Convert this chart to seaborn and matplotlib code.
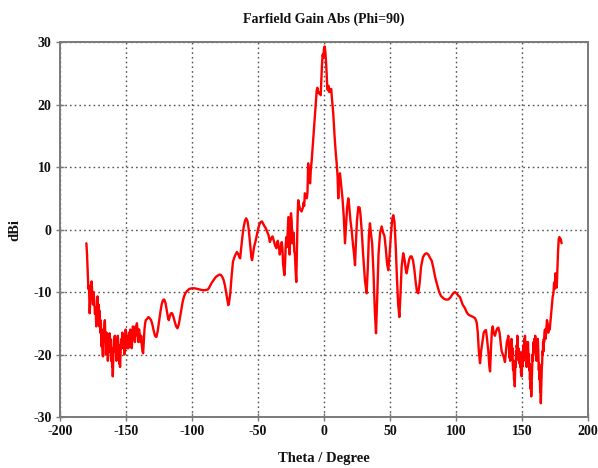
import matplotlib
matplotlib.use("Agg")
import matplotlib.pyplot as plt
import seaborn as sns
import pandas as pd

# Far-field gain cut at Phi = 90 deg, sampled in theta (degrees) -> gain (dBi)

# back-lobe edge, theta -180 .. -172.5
theta_left_tail = [-180, -179.5, -179, -178.5, -178, -177.5, -177, -176.5,
                   -176, -175.5, -175, -174.5, -174, -173.5, -173, -172.5]
gain_left_tail = [-2.2, -4.0, -7.0, -9.5, -9.0, -13.4, -11.0, -9.5,
                  -8.3, -10.5, -12.0, -10.0, -11.5, -13.5, -12.5, -15.5]

# finely sampled ripple, theta -172 .. -140 in 0.25 deg steps
left_ripple_start = -172.0
gain_left_ripple = [
    -14.0, -12.0, -10.7, -12.8, -13.5, -12.0, -14.5, -15.5, -13.0, -14.8,
    -16.5, -14.5, -15.0, -17.5, -18.7, -16.0, -17.0, -19.0, -20.3, -17.5,
    -18.0, -16.5, -16.0, -15.0, -14.5, -16.5, -17.5, -20.0, -19.0, -16.5,
    -17.0, -19.5, -18.5, -21.0, -20.0, -17.0, -17.5, -19.5, -16.6, -18.0,
    -19.0, -17.5, -18.0, -21.0, -20.5, -19.0, -22.0, -21.0, -23.5, -21.5,
    -20.0, -18.0, -17.5, -19.5, -17.0, -18.0, -19.0, -17.5, -18.0, -21.0,
    -20.5, -18.0, -18.5, -17.0, -17.5, -19.5, -20.0, -18.5, -21.5, -20.0,
    -22.0, -20.5, -19.5, -18.0, -17.5, -19.0, -18.5, -16.5, -17.0, -18.5,
    -19.0, -17.0, -18.0, -20.0, -19.5, -18.0, -17.5, -16.0, -16.6, -18.0,
    -18.5, -17.0, -19.0, -18.0, -17.5, -19.0, -18.5, -16.5, -17.0, -18.5,
    -18.0, -16.0, -16.5, -18.0, -17.5, -19.0, -18.5, -17.0, -17.0, -15.5,
    -16.0, -17.5, -17.5, -16.0, -16.5, -18.0, -17.0, -15.5, -15.5, -16.5,
    -16.0, -15.0, -15.5, -17.0, -16.5, -18.0, -17.0, -16.0, -16.0,
]

# main part of the cut, theta -139.5 .. 139.6
theta_main = [
    -139.5, -139, -138.5, -138, -137.5, -137, -136.5, -136, -135.5, -135,
    -134, -133, -132, -131, -130, -129, -128, -127, -126, -125,
    -124, -123, -122, -121, -120, -119, -118, -117.5, -117, -116,
    -115, -114, -113, -112, -111, -110, -109, -108, -107, -106,
    -105, -104, -103, -102, -100, -98, -96, -94, -92, -90,
    -88, -87, -86, -85, -84, -82, -80, -79, -78, -77,
    -76, -75, -74, -73, -72.5, -72, -71, -70, -69, -68,
    -67, -66, -65, -64, -63.5, -63, -62, -61, -60, -59,
    -58, -57, -56, -55, -54.5, -54, -53, -52, -51, -50,
    -49, -48, -47, -46, -45, -44, -43, -42, -41, -40,
    -39, -38, -37, -36, -35.5, -35, -34, -33.5, -33, -32,
    -31.5, -31, -30, -29.5, -29, -28.5, -28, -27.5, -27, -26.5,
    -26, -25.5, -25, -24.5, -24, -23.5, -23, -22.5, -22, -21.5,
    -21, -20.5, -20, -19.5, -19, -18, -17, -16, -15.5, -15,
    -14.5, -14, -13, -12.5, -12, -11.5, -11, -10.5, -10, -9.3,
    -8.5, -7.5, -6.5, -5.5, -5, -4.5, -4, -3, -2.5, -2,
    -1.5, -1, -0.5, 0, 0.5, 1, 1.5, 2, 2.5, 3,
    3.5, 4, 5, 5.5, 6, 7, 8, 9, 9.6, 10.3,
    10.8, 11.3, 12.1, 12.8, 13.4, 14, 15, 15.9, 16.8, 17.5,
    18.4, 19, 20, 21, 22, 22.8, 23.5, 24.2, 25, 26,
    27, 27.6, 28.5, 29.5, 31, 32.3, 33.2, 34, 34.8, 35.5,
    36.5, 37.5, 38.5, 39.4, 40.3, 41.3, 42.5, 43.7, 44.8, 45.8,
    46.8, 47.8, 48.7, 49.7, 50.8, 51.8, 52.5, 53.4, 54.3, 55.3,
    56.2, 57.1, 57.8, 58.8, 60, 61, 62, 62.6, 63.5, 64.5,
    65.5, 66.4, 67.5, 68.5, 69.5, 70.5, 71.4, 72.5, 73.5, 75,
    76.5, 77.8, 79, 80.5, 81.6, 83, 84.2, 85.4, 87, 88.5,
    90.4, 92.2, 94.2, 96, 97.5, 99.2, 100.5, 101.8, 103, 105,
    106.8, 108, 109.3, 111, 113.1, 114.5, 115.7, 116.5, 117.3, 118.2,
    119, 120, 121, 121.8, 122.7, 123.5, 124.5, 125.3, 125.8, 126.5,
    127.2, 127.8, 128.5, 129.5, 130.5, 131.3, 132.1, 133, 134, 134.6,
    135.5, 136.3, 137.1, 137.8, 138.5, 139.2, 139.6,
]
gain_main = [
    -17.0, -18.0, -17.0, -18.5, -19.5, -19.8, -18.0, -16.0, -15.0, -14.5,
    -14.3, -14.0, -14.2, -14.5, -15.2, -16.2, -17.0, -17.2, -16.3, -14.8,
    -13.3, -12.0, -11.3, -11.2, -11.8, -13.0, -14.3, -14.5, -14.0, -13.4,
    -13.4, -14.0, -14.8, -15.5, -15.8, -15.2, -14.0, -12.7, -11.5, -10.7,
    -10.2, -9.9, -9.7, -9.5, -9.4, -9.4, -9.5, -9.6, -9.7, -9.7,
    -9.6, -9.3, -8.9, -8.5, -8.2, -7.6, -7.3, -7.2, -7.3, -7.6,
    -8.1, -9.0, -10.2, -11.3, -12.1, -11.8, -10.2, -7.5, -5.2, -4.5,
    -4.0, -3.6, -3.9, -4.5, -4.6, -3.5, -1.5, 0.2, 1.3, 1.8,
    1.4, 0.0, -2.2, -4.5, -4.9, -4.3, -2.8, -2.0, -1.0, 0.0,
    0.8, 1.2, 1.3, 0.9, 0.5, 0.2, -0.4, -0.9, -2.0, -1.4,
    -1.1, -1.8, -2.6, -3.0, -2.2, -1.8, -3.0, -4.0, -3.2, -2.0,
    -3.0, -5.5, -7.3, -5.5, -2.5, -1.2, -2.8, -0.5, 2.0, -1.0,
    -4.0, 1.0, 2.6, 1.5, -2.2, -1.0, -0.5, -3.5, -4.0, -6.5,
    -8.4, -3.0, 2.0, 4.7, 4.0, 3.2, 2.9, 3.5, 4.3, 3.8,
    5.8, 5.5, 5.0, 6.0, 10.6, 9.0, 8.0, 7.4, 9.5, 11.1,
    13.5, 16.5, 19.5, 22.3, 22.7, 22.0, 21.8, 22.0, 21.5, 24.0,
    26.5, 28.0, 27.5, 29.0, 29.3, 28.5, 27.0, 25.0, 22.5, 22.3,
    23.0, 22.0, 22.5, 22.5, 21.0, 18.6, 15.0, 12.0, 10.6, 8.5,
    5.0, 8.0, 9.0, 7.5, 6.3, 5.0, 2.0, -2.2, 1.0, 3.5,
    5.0, 4.0, 1.5, -0.2, -2.5, -4.0, -5.7, -2.0, 1.5, 3.6,
    3.5, 2.5, 0.0, -3.5, -8.1, -10.2, -6.0, -1.0, 1.0, -0.5,
    -2.3, -7.0, -13.0, -16.6, -11.0, -4.0, -0.5, 0.5, -0.5, -1.0,
    -3.0, -5.5, -6.5, -4.0, -0.5, 1.8, 2.3, 1.2, -2.5, -8.0,
    -12.0, -14.0, -11.0, -6.0, -3.8, -4.8, -6.5, -7.0, -6.0, -4.8,
    -4.3, -4.3, -5.0, -6.5, -8.5, -10.0, -10.2, -8.5, -6.0, -4.4,
    -3.9, -3.8, -4.0, -4.6, -5.0, -6.3, -7.6, -8.6, -9.8, -10.6,
    -11.0, -11.2, -11.2, -10.8, -10.3, -10.0, -10.2, -10.6, -10.8, -12.0,
    -12.6, -13.2, -13.6, -13.8, -14.0, -14.2, -14.9, -16.5, -19.5, -21.4,
    -19.5, -18.0, -16.5, -16.2, -16.1, -17.5, -19.5, -22.0, -22.7, -19.0,
    -16.2, -15.5, -16.5, -17.0, -16.2, -15.8, -15.7, -16.5, -18.5, -19.5,
    -20.0, -20.5, -21.2, -19.5, -18.0, -17.5, -17.0,
]

# finely sampled ripple, theta 140 .. 167 in 0.25 deg steps
right_ripple_start = 140.0
gain_right_ripple = [
    -18.0, -19.5, -20.5, -19.0, -21.0, -20.0, -18.5, -19.5, -17.5, -18.0,
    -20.0, -19.0, -21.5, -22.5, -21.0, -23.0, -24.0, -22.5, -25.1, -23.0,
    -21.0, -22.0, -19.5, -20.5, -18.5, -19.0, -17.0, -18.5, -20.0, -19.0,
    -21.0, -20.5, -19.5, -21.5, -20.0, -22.0, -21.0, -23.0, -22.0, -23.5,
    -21.0, -22.0, -19.5, -20.5, -18.5, -21.0, -19.0, -17.5, -18.5, -17.0,
    -19.0, -18.0, -20.5, -19.5, -22.0, -21.0, -19.0, -20.0, -18.0, -19.5,
    -21.0, -20.0, -22.5, -21.5, -24.0, -23.0, -25.5, -24.5, -26.7, -25.0,
    -23.0, -22.0, -20.0, -21.0, -19.0, -18.0, -19.5, -17.5, -18.0, -19.5,
    -17.0, -18.5, -20.0, -19.0, -21.0, -20.0, -18.0, -19.0, -17.5, -19.0,
    -21.0, -22.5, -21.5, -24.0, -23.0, -26.0, -25.5, -27.8, -26.0, -24.0,
    -22.0, -21.5, -19.5, -20.0, -18.0, -19.5, -17.5, -18.0, -16.5,
]

# back-lobe edge, theta 167.4 .. 180
theta_right_tail = [167.4, 167.9, 168.4, 168.9, 169.4, 169.9, 170.5, 171,
                    171.5, 172, 172.6, 173.2, 173.8, 174.3, 174.8, 175.3,
                    175.8, 176.3, 176.8, 177.3, 177.8, 178.3, 178.8, 179.3, 180]
gain_right_tail = [-16.0, -17.5, -16.0, -14.5, -15.0, -16.5, -15.3, -16.0,
                   -14.8, -13.5, -12.0, -10.8, -10.2, -8.5, -9.5, -7.0,
                   -8.5, -9.3, -6.5, -3.5, -1.5, -1.2, -1.8, -1.5, -2.2]

x_ticks = [-200, -150, -100, -50, 0, 50, 100, 150, 200]
y_ticks = [-30, -20, -10, 0, 10, 20, 30]

theta_left_ripple = [left_ripple_start + 0.25 * i for i in range(len(gain_left_ripple))]
theta_right_ripple = [right_ripple_start + 0.25 * i for i in range(len(gain_right_ripple))]

df = pd.DataFrame({
    "Theta": theta_left_tail + theta_left_ripple + theta_main
             + theta_right_ripple + theta_right_tail,
    "Gain": gain_left_tail + gain_left_ripple + gain_main
            + gain_right_ripple + gain_right_tail,
})

sns.set_theme(style="white")
plt.rcParams["font.family"] = ["Liberation Serif", "DejaVu Serif"]
plt.rcParams["font.weight"] = "bold"

fig = plt.figure(figsize=(5.98, 4.68), dpi=100)
ax = fig.add_axes([0.1003, 0.109, 0.883, 0.801])

sns.lineplot(data=df, x="Theta", y="Gain", ax=ax, color="#ff0000",
             linewidth=1.7, estimator=None, sort=False)

ax.set_xlim(-200, 200)
ax.set_ylim(-30, 30)
ax.set_xticks(x_ticks)
ax.set_yticks(y_ticks)
ax.set_xticklabels([str(t) for t in x_ticks], fontsize=10, fontweight="bold")
ax.set_yticklabels([str(t) for t in y_ticks], fontsize=10, fontweight="bold")
ax.grid(True, linestyle=(0, (1.2, 2.2)), color="#555555", linewidth=1.0)
ax.set_axisbelow(True)

for side in ax.spines.values():
    side.set_color("#7a7a7a")
    side.set_linewidth(1.4)

ax.tick_params(axis="both", direction="inout", length=6, width=1.0,
               color="#7a7a7a", labelcolor="#111111", pad=3,
               bottom=True, left=True)

ax.set_xlabel("Theta / Degree", fontsize=10.5, fontweight="bold", color="#111111")
ax.set_ylabel("dBi", fontsize=10.5, fontweight="bold", color="#111111")
ax.xaxis.set_label_coords(0.5, -0.093)
ax.yaxis.set_label_coords(-0.074, 0.5)
ax.set_title("Farfield Gain Abs (Phi=90)", fontsize=10, fontweight="bold",
             color="#111111", pad=14)

fig.savefig("out.png", dpi=100)
